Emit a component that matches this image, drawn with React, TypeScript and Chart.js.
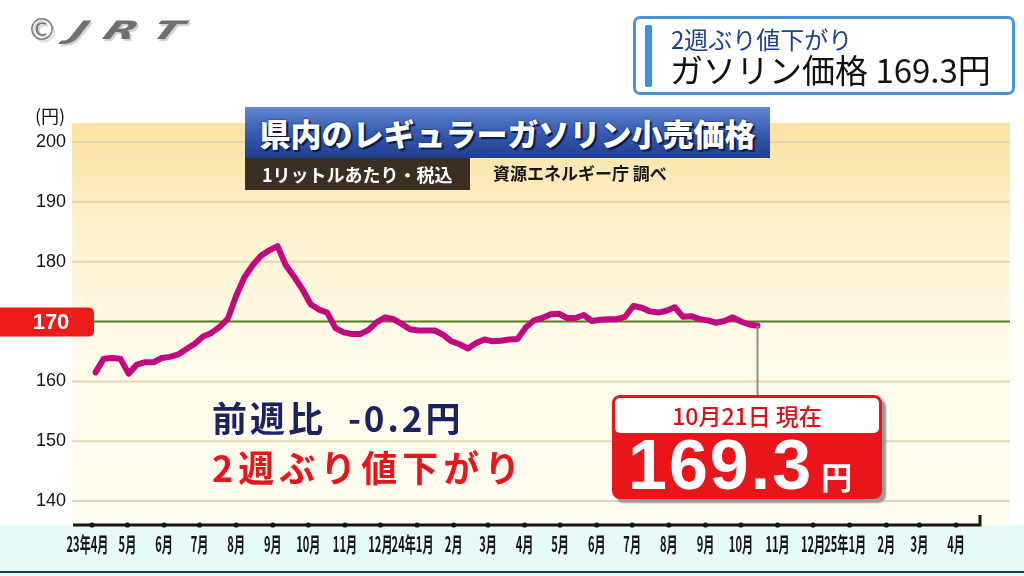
import React, { useEffect, useRef } from "react";
import { Chart, registerables } from "chart.js";

Chart.register(...registerables);

// Weekly survey (Mondays), first point 2023-04-10, last 2024-10-21
const firstSurvey = [2023, 4, 10];
const axisOrigin = [2023, 4, 7]; // month ticks sit on the 7th
const prices = [
  161.5, 163.8, 163.9, 163.8, 161.3, 162.8, 163.2, 163.2, 163.9, 164.1,
  164.5, 165.4, 166.3, 167.5, 168.1, 169.1, 170.5, 174.3, 177.4, 179.4,
  181.0, 181.9, 182.6, 179.4, 177.5, 175.4, 172.9, 172.0, 171.5, 168.9,
  168.2, 167.9, 167.9, 168.6, 169.9, 170.7, 170.4, 169.6, 168.7, 168.5,
  168.5, 168.5, 167.8, 166.7, 166.2, 165.5, 166.4, 167.0, 166.7, 166.8,
  167.0, 167.1, 169.0, 170.2, 170.6, 171.2, 171.3, 170.6, 170.6, 171.1,
  170.1, 170.3, 170.4, 170.4, 170.8, 172.6, 172.3, 171.7, 171.5, 171.8,
  172.4, 170.8, 170.9, 170.4, 170.2, 169.8, 170.1, 170.7, 170.0, 169.5,
  169.3,
];
const monthLabels = [
  "23年4月", "5月", "6月", "7月", "8月", "9月", "10月", "11月", "12月",
  "24年1月", "2月", "3月", "4月", "5月", "6月", "7月", "8月", "9月", "10月",
  "11月", "12月", "25年1月", "2月", "3月", "4月",
];
const yTicks = [140, 150, 160, 170, 180, 190, 200];
const referencePrice = 170;
const yRange = [136, 203.18];
const xRange = [-16.9, 776.6];

const DAY = 86400000;
const utc = (y: number, m: number, d: number) => Date.UTC(y, m - 1, d);
const originMs = utc(axisOrigin[0], axisOrigin[1], axisOrigin[2]);
const firstMs = utc(firstSurvey[0], firstSurvey[1], firstSurvey[2]);

const points = prices.map((v, i) => ({
  x: (firstMs + i * 7 * DAY - originMs) / DAY,
  y: v,
}));
const monthTickDays = monthLabels.map(
  (_, k) => (Date.UTC(axisOrigin[0], axisOrigin[1] - 1 + k, axisOrigin[2]) - originMs) / DAY
);

const decor = {
  id: "decor",
  beforeDraw(chart: any) {
    const { ctx, chartArea } = chart;
    const { left, top, right, bottom } = chartArea;
    const ys = chart.scales.y;
    ctx.save();
    ctx.fillStyle = "#ffffff";
    ctx.fillRect(0, 0, chart.width, chart.height);
    ctx.fillStyle = "#e6fafa";
    ctx.fillRect(0, bottom, chart.width, chart.height - bottom);
    ctx.fillStyle = "#1c3a40";
    ctx.fillRect(0, chart.height - 5, chart.width, 2);
    const g = ctx.createLinearGradient(0, top, 0, bottom);
    g.addColorStop(0, "#fde2a2");
    g.addColorStop(0.3, "#fef3d2");
    g.addColorStop(0.55, "#fffbe8");
    g.addColorStop(1, "#fffdf2");
    ctx.fillStyle = g;
    ctx.fillRect(left, top, right - left, bottom - top);
    // grid
    for (const v of yTicks) {
      const y = ys.getPixelForValue(v);
      ctx.beginPath();
      ctx.lineWidth = 2;
      ctx.strokeStyle = v === referencePrice ? "#4f7d1d" : "#e6d4b4";
      ctx.moveTo(left, y);
      ctx.lineTo(right, y);
      ctx.stroke();
    }
    // y labels
    ctx.fillStyle = "#151515";
    ctx.font = '18px "Liberation Sans", Arial, sans-serif';
    ctx.textAlign = "right";
    ctx.textBaseline = "middle";
    for (const v of yTicks) {
      if (v === referencePrice) continue;
      ctx.fillText(String(v), 66, ys.getPixelForValue(v));
    }
    ctx.textAlign = "center";
    ctx.font = '18px "Noto Sans CJK JP", sans-serif';
    ctx.fillText("(円)", 50, 116);
    ctx.restore();
  },
  afterDatasetsDraw(chart: any) {
    const { ctx, chartArea } = chart;
    const { bottom } = chartArea;
    const xs = chart.scales.x;
    const ys = chart.scales.y;
    ctx.save();
    // connector from last point to the value box
    const last = points[points.length - 1];
    const lx = xs.getPixelForValue(last.x);
    ctx.strokeStyle = "#8c8c8c";
    ctx.lineWidth = 2;
    ctx.beginPath();
    ctx.moveTo(lx, ys.getPixelForValue(last.y));
    ctx.lineTo(lx, 400);
    ctx.stroke();
    // reference label
    const ry = ys.getPixelForValue(referencePrice);
    ctx.fillStyle = "#ee1b1b";
    ctx.beginPath();
    ctx.roundRect(-6, ry - 14, 100, 29, 5);
    ctx.fill();
    ctx.fillStyle = "#ffffff";
    ctx.font = 'bold 22px "Liberation Sans", Arial, sans-serif';
    ctx.textAlign = "center";
    ctx.textBaseline = "middle";
    ctx.fillText(String(referencePrice), 51, ry + 1);
    // x axis
    const x0 = 73;
    const x1 = 980;
    ctx.strokeStyle = "#151515";
    ctx.lineWidth = 3;
    ctx.beginPath();
    ctx.moveTo(x0, bottom);
    ctx.lineTo(x1, bottom);
    ctx.lineTo(x1, bottom - 10);
    ctx.stroke();
    ctx.fillStyle = "#151515";
    monthTickDays.forEach((d, k) => {
      const px = xs.getPixelForValue(d);
      ctx.beginPath();
      ctx.arc(px, bottom, 2.6, 0, Math.PI * 2);
      ctx.fill();
      const label = monthLabels[k];
      const cx = label.includes("年") ? px - 4.5 : px;
      ctx.save();
      ctx.translate(cx, bottom + 19);
      ctx.scale(0.53, 1);
      ctx.font = '700 21px "Noto Sans CJK JP", sans-serif';
      ctx.textAlign = "center";
      ctx.textBaseline = "middle";
      ctx.fillText(label, 0, 0);
      ctx.restore();
    });
    ctx.restore();
  },
};

export default function App() {
  const ref = useRef<HTMLCanvasElement | null>(null);
  useEffect(() => {
    if (!ref.current) return;
    const chart = new Chart(ref.current, {
      type: "line",
      data: {
        datasets: [
          {
            data: points,
            borderColor: "#c2087f",
            borderWidth: 6,
            pointRadius: 0,
            tension: 0,
            borderJoinStyle: "round",
            borderCapStyle: "round",
          } as any,
        ],
      },
      options: {
        animation: false,
        responsive: false,
        maintainAspectRatio: false,
        layout: { padding: { left: 72, top: 123, right: 14, bottom: 51 } },
        plugins: { legend: { display: false }, tooltip: { enabled: false } },
        scales: {
          x: { type: "linear", display: false, min: xRange[0], max: xRange[1] },
          y: { display: false, min: yRange[0], max: yRange[1] },
        },
      },
      plugins: [decor],
    });
    return () => chart.destroy();
  }, []);

  const jp = '"Noto Sans CJK JP", sans-serif';
  const abs = (s: React.CSSProperties): React.CSSProperties => ({ position: "absolute", ...s });

  return (
    <div style={{ position: "fixed", left: 0, top: 0, width: 1024, height: 576, overflow: "hidden", background: "#fff", fontFamily: jp }}>
      <canvas ref={ref} width={1024} height={576} style={{ position: "absolute", left: 0, top: 0 }} />
      {/* logo */}
      <div style={abs({ left: 27, top: 12, color: "#7a7a7a", fontFamily: '"DejaVu Sans", sans-serif', fontSize: 30, lineHeight: "36px", textShadow: "2px 2px 1px #d0d0d0" })}>
        ©
      </div>
      <div style={abs({ left: 72, top: 10, color: "#707070", fontFamily: '"DejaVu Sans", sans-serif', fontWeight: 700, fontStyle: "italic", fontSize: 34, letterSpacing: 14, lineHeight: "40px", transform: "skewX(-25deg) scale(1.25, 0.75)", transformOrigin: "left center", textShadow: "2px 2px 1px #d0d0d0" })}>
        JRT
      </div>
      {/* top-right caption */}
      <div style={abs({ left: 633, top: 16, width: 376, height: 73, border: "3px solid #4a94dc", borderRadius: 7, background: "#fff" })} />
      <div style={abs({ left: 645, top: 25, width: 7, height: 62, background: "#3d8fe0", borderRadius: 2 })} />
      <div style={abs({ left: 671, top: 25, fontSize: 24, lineHeight: "28px", color: "#1d3f93", whiteSpace: "nowrap" })}>2週ぶり値下がり</div>
      <div style={abs({ left: 670, top: 50, fontSize: 33, lineHeight: "38px", color: "#111", whiteSpace: "nowrap" })}>ガソリン価格 169.3円</div>
      {/* title */}
      <div style={abs({ left: 245, top: 107, width: 525, height: 51, background: "linear-gradient(#6488d4 0%, #3a5fb4 45%, #1f3d8d 100%)", color: "#fff", fontSize: 31, fontWeight: 900, lineHeight: "51px", textAlign: "center", whiteSpace: "nowrap", textShadow: "0 0 2px #0b1a4d, 2px 2px 1px #0b1a4d" })}>
        県内のレギュラーガソリン小売価格
      </div>
      <div style={abs({ left: 245, top: 158, width: 225, height: 32, background: "#3a2f20", color: "#fff", fontSize: 18, fontWeight: 700, lineHeight: "32px", paddingLeft: 17, boxSizing: "border-box", whiteSpace: "nowrap" })}>
        1リットルあたり・税込
      </div>
      <div style={abs({ left: 493, top: 161, color: "#161616", fontSize: 17, fontWeight: 700, lineHeight: "24px", whiteSpace: "nowrap" })}>資源エネルギー庁 調べ</div>
      {/* annotations */}
      <div style={abs({ left: 212, top: 396, color: "#1c2160", fontSize: 35, fontWeight: 700, lineHeight: "42px", letterSpacing: 3, whiteSpace: "pre" })}>前週比  -0.2円</div>
      <div style={abs({ left: 212, top: 445, color: "#e8161c", fontSize: 36, fontWeight: 700, lineHeight: "42px", letterSpacing: 5, whiteSpace: "nowrap" })}>2週ぶり値下がり</div>
      {/* value box */}
      <div style={abs({ left: 612, top: 395, width: 270, height: 104, background: "#e8161b", borderRadius: 8, boxShadow: "4px 4px 2px #9a9a9a" })} />
      <div style={abs({ left: 615, top: 398, width: 264, height: 35, background: "#fff", borderRadius: 5, color: "#d6141a", fontSize: 23, fontWeight: 500, lineHeight: "35px", textAlign: "center", whiteSpace: "nowrap" })}>
        10月21日 現在
      </div>
      <div style={abs({ left: 628, top: 433, height: 64, display: "flex", alignItems: "baseline", color: "#fff", whiteSpace: "nowrap" })}>
        <span style={{ fontFamily: '"Liberation Sans", Arial, sans-serif', fontWeight: 700, fontSize: 70, lineHeight: "64px", letterSpacing: 2 }}>169.3</span>
        <span style={{ fontSize: 31, fontWeight: 700, marginLeft: 8 }}>円</span>
      </div>
    </div>
  );
}
